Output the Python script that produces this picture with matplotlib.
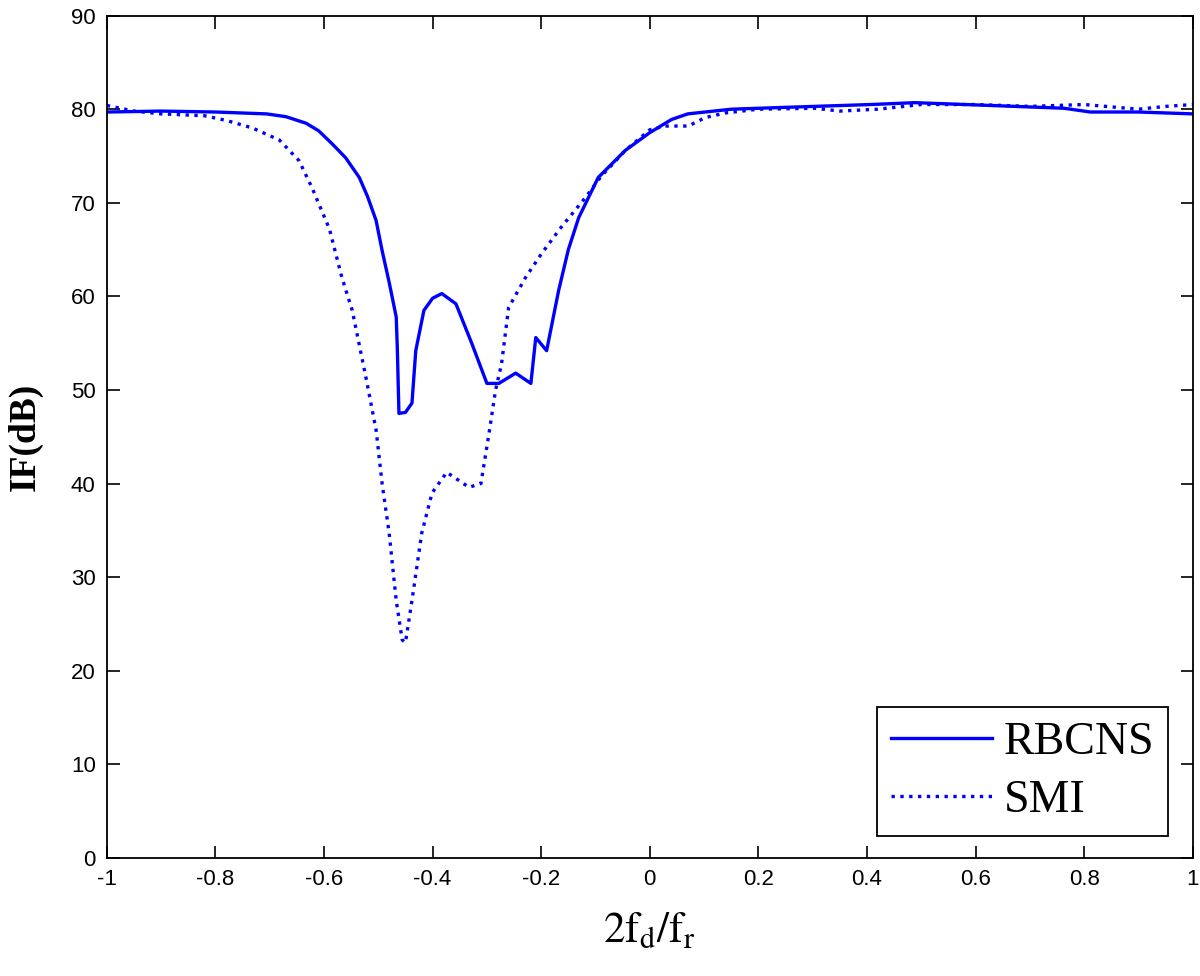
import numpy as np
import matplotlib
matplotlib.use("Agg")
import matplotlib.pyplot as plt

plt.rcParams['mathtext.fontset'] = 'stix'

# RBCNS curve (solid)
rbcns_x = [-1.0, -0.9, -0.8, -0.706, -0.67, -0.633, -0.61, -0.585, -0.56, -0.535,
           -0.52, -0.504, -0.493, -0.48, -0.467, -0.465, -0.462, -0.45, -0.438, -0.431,
           -0.416, -0.400, -0.383, -0.357, -0.328, -0.300, -0.278, -0.247, -0.219, -0.21,
           -0.19, -0.168, -0.15, -0.131, -0.095, -0.045, 0.0, 0.04, 0.07, 0.15,
           0.25, 0.407, 0.488, 0.627, 0.763, 0.811, 0.9, 1.0]
rbcns_y = [79.7, 79.8, 79.7, 79.5, 79.2, 78.5, 77.7, 76.3, 74.8, 72.7,
           70.7, 68.1, 64.9, 61.5, 57.8, 54.5, 47.5, 47.6, 48.6, 54.2,
           58.5, 59.8, 60.3, 59.2, 55.0, 50.7, 50.7, 51.8, 50.7, 55.6,
           54.2, 60.6, 65.0, 68.4, 72.7, 75.6, 77.5, 78.9, 79.5, 80.0,
           80.2, 80.5, 80.7, 80.4, 80.1, 79.7, 79.7, 79.5]

# SMI curve (dotted)
smi_x = [-1.0, -0.95, -0.9, -0.82, -0.78, -0.732, -0.682, -0.646, -0.622, -0.590,
         -0.567, -0.548, -0.523, -0.504, -0.493, -0.480, -0.467, -0.456, -0.45, -0.438,
         -0.420, -0.401, -0.374, -0.333, -0.311, -0.296, -0.284, -0.273, -0.260, -0.229,
         -0.199, -0.163, -0.118, -0.09, -0.045, 0.0, 0.028, 0.071, 0.102, 0.139,
         0.2, 0.304, 0.35, 0.42, 0.5, 0.6, 0.7, 0.8, 0.9, 0.95, 1.0]
smi_y = [80.4, 79.8, 79.5, 79.3, 78.8, 78.0, 76.7, 74.5, 71.6, 67.2,
         62.0, 58.5, 51.4, 45.7, 40.0, 34.7, 27.5, 23.3, 23.0, 27.5,
         34.7, 39.0, 41.2, 39.6, 40.0, 45.4, 50.0, 52.8, 58.8, 62.0,
         64.6, 67.4, 70.6, 72.8, 75.6, 77.8, 78.2, 78.2, 79.1, 79.6,
         80.0, 80.1, 79.8, 80.0, 80.5, 80.5, 80.3, 80.5, 80.0, 80.3, 80.5]

fig = plt.figure(figsize=(12, 9.76), dpi=100)
ax = fig.add_axes([0.089, 0.121, 0.905, 0.863])

ax.plot(rbcns_x, rbcns_y, color='#0000ff', lw=2.4, ls='-', label='RBCNS')
ax.plot(smi_x, smi_y, color='#0000ff', lw=2.4, ls=':', label='SMI')

ax.set_xlim(-1, 1)
ax.set_ylim(0, 90)
ax.set_xticks(np.arange(-1, 1.01, 0.2))
ax.set_xticklabels(['-1', '-0.8', '-0.6', '-0.4', '-0.2', '0', '0.2', '0.4', '0.6', '0.8', '1'])
ax.set_yticks(np.arange(0, 91, 10))
ax.tick_params(direction='in', top=True, right=True, length=9, width=1.2,
               labelsize=16, pad=8)
for lab in ax.get_xticklabels() + ax.get_yticklabels():
    lab.set_family('Liberation Sans')
for s in ax.spines.values():
    s.set_linewidth(1.3)

ax.set_xlabel(r'$\mathrm{2f_d/f_r}$', fontsize=31, labelpad=14)
ax.set_ylabel('IF(dB)', fontsize=27, family='Liberation Serif', fontweight='bold', labelpad=20)

leg = ax.legend(loc='lower right', bbox_to_anchor=(0.977, 0.026),
                prop={'family': 'Liberation Serif', 'size': 33},
                fancybox=False, edgecolor='black', framealpha=1,
                handlelength=2.2, borderpad=0.3, labelspacing=0.35, handletextpad=0.25,
                borderaxespad=0)
leg.get_frame().set_linewidth(1.3)

fig.savefig('out.png', dpi=100)
